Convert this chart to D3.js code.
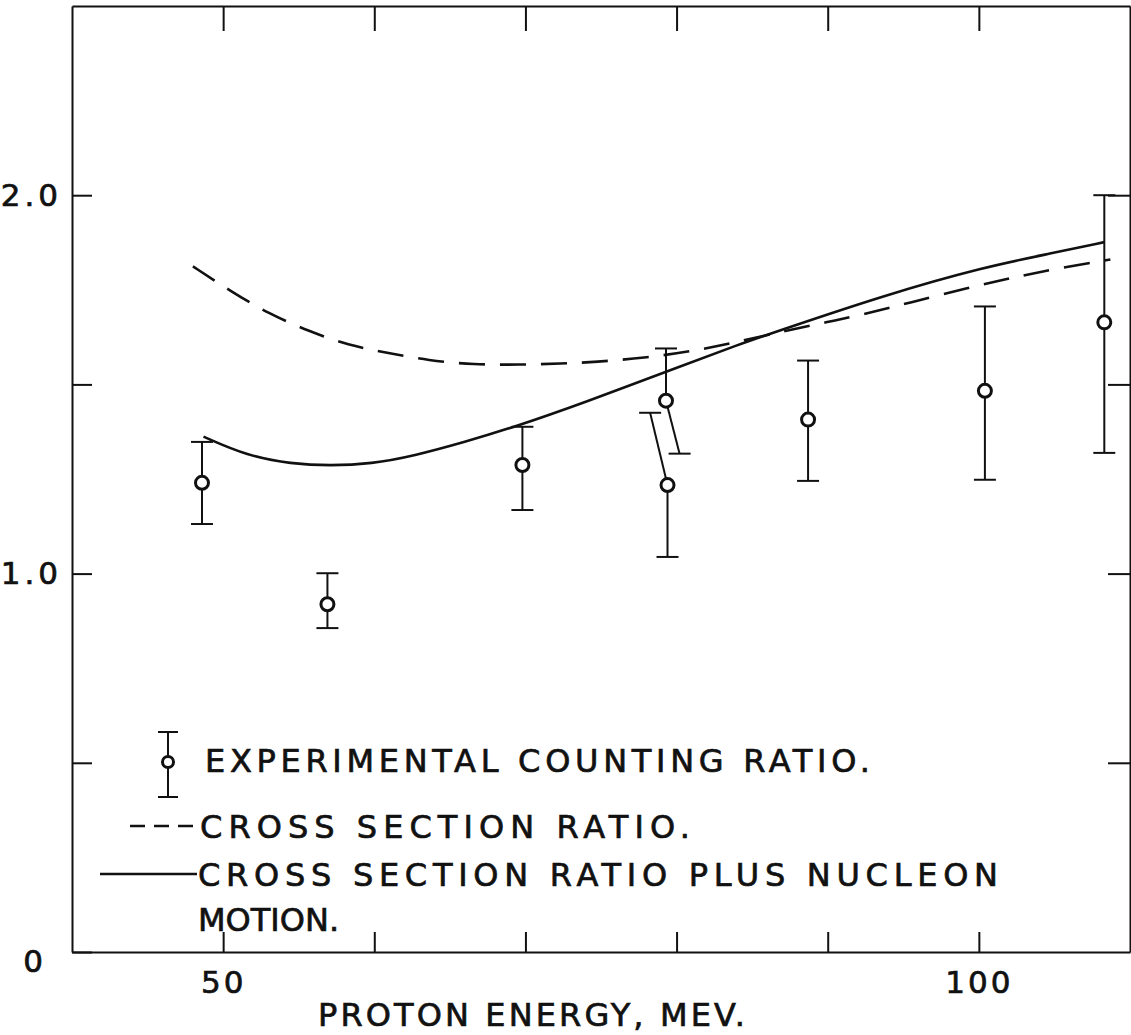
<html>
<head>
<script src="https://cdn.jsdelivr.net/npm/d3@7"></script>
<style>
    body { margin: 0; background: #fff; }
    text { font-family: "DejaVu Sans", sans-serif; fill: #111; stroke: #111; stroke-width: 0.7px; }
    .axis path, .axis line { stroke: #111; stroke-width: 2px; }
    .curve { fill: none; stroke: #111; stroke-width: 2.6px; }
    .bar { stroke: #111; stroke-width: 2px; }
</style>
</head>
<body>
<svg id="chart"></svg>
<script>
const WIDTH = 1131
const HEIGHT = 1035

// experimental counting ratio (points with error bars)
const energy = [48.6, 56.9, 69.8, 79.3, 79.4, 88.7, 100.4, 108.3]
const ratio = [1.240, 0.919, 1.287, 1.457, 1.234, 1.407, 1.483, 1.664]
const errLow = [1.131, 0.856, 1.168, 1.317, 1.044, 1.245, 1.248, 1.319]
const errHigh = [1.348, 1.001, 1.388, 1.595, 1.425, 1.563, 1.706, 2.000]
// two overlapping points at ~79 MeV have their bars drawn slanted
const lowCapEnergy = [null, null, null, 80.2, null, null, null, null]
const highCapEnergy = [null, null, null, null, 78.25, null, null, null]

// cross section ratio (dashed)
const dashE = [48.0, 50.5, 53.0, 55.7, 58.3, 60.8, 63.6, 66.6, 69.6, 72.4, 74.6, 77.9, 80.9, 83.5, 87.2, 89.9, 92.5, 95.4, 99.2, 102.3, 105.4, 108.7]
const dashR = [1.812, 1.746, 1.687, 1.640, 1.603, 1.584, 1.563, 1.552, 1.552, 1.555, 1.559, 1.570, 1.587, 1.607, 1.642, 1.664, 1.686, 1.716, 1.754, 1.783, 1.808, 1.830]

// cross section ratio plus nucleon motion (solid)
const solidE = [48.7, 51.6, 54.5, 57.1, 59.8, 62.6, 66.0, 69.3, 73.7, 80.4, 84.0, 87.0, 93.7, 100.3, 104.9, 108.3]
const solidR = [1.362, 1.311, 1.290, 1.285, 1.290, 1.311, 1.348, 1.388, 1.449, 1.550, 1.604, 1.645, 1.735, 1.810, 1.847, 1.876]

const xTicks = [50, 60, 70, 80, 90, 100]
const yTicks = [0, 0.5, 1.0, 1.5, 2.0]
const xLabels = {50: "50", 100: "100"}
const yLabels = {0: "0", 1: "1.0", 2: "2.0"}

const legendLabels = ["EXPERIMENTAL  COUNTING  RATIO.", "CROSS  SECTION  RATIO.", "CROSS  SECTION  RATIO  PLUS  NUCLEON", "MOTION."]
const xTitle = "PROTON  ENERGY,  MEV."

function draw() {
    let svg = d3.select("#chart").attr("width", WIDTH).attr("height", HEIGHT)

    let x = d3.scaleLinear().domain([40, 110]).range([72, 1130])
    let y = d3.scaleLinear().domain([0, 2.5]).range([952, 6])

    // frame + inward ticks
    let bottom = svg.append("g").attr("class", "axis")
        .attr("transform", `translate(0,${y(0)})`)
        .call(d3.axisBottom(x).tickValues(xTicks).tickSizeInner(-20).tickSizeOuter(0)
            .tickPadding(19).tickFormat(d => xLabels[d] || ""))
    bottom.selectAll("text").attr("font-size", 31).attr("letter-spacing", 3)

    svg.append("g").attr("class", "axis")
        .attr("transform", `translate(0,${y(2.5)})`)
        .call(d3.axisTop(x).tickValues(xTicks).tickSizeInner(-25).tickSizeOuter(0).tickFormat(""))

    let left = svg.append("g").attr("class", "axis")
        .attr("transform", `translate(${x(40)},0)`)
        .call(d3.axisLeft(y).tickValues(yTicks).tickSizeInner(-20).tickSizeOuter(0)
            .tickPadding(10).tickFormat(d => yLabels[d] || ""))
    left.selectAll("text").attr("font-size", 31).attr("letter-spacing", 4)
    left.selectAll(".tick").filter(d => d === 0).select("text")
        .attr("x", -25).attr("dy", "0.62em")

    svg.append("g").attr("class", "axis")
        .attr("transform", `translate(${x(110)},0)`)
        .call(d3.axisRight(y).tickValues(yTicks.slice(1)).tickSizeInner(-22).tickSizeOuter(0).tickFormat(""))

    // curves
    let line = d3.line().x(d => x(d[0])).y(d => y(d[1])).curve(d3.curveBasis)

    svg.append("path").attr("class", "curve")
        .datum(dashE.map((e, i) => [e, dashR[i]]))
        .attr("stroke-dasharray", "26,15")
        .attr("d", line)

    svg.append("path").attr("class", "curve")
        .datum(solidE.map((e, i) => [e, solidR[i]]))
        .attr("d", line)

    // error bars + points
    let pts = energy.map((e, i) => ({
        e: e, r: ratio[i], lo: errLow[i], hi: errHigh[i],
        loE: lowCapEnergy[i] || e, hiE: highCapEnergy[i] || e
    }))
    let g = svg.append("g")
    let cap = 11
    pts.forEach(p => {
        g.append("line").attr("class", "bar")
            .attr("x1", x(p.hiE)).attr("y1", y(p.hi)).attr("x2", x(p.e)).attr("y2", y(p.r))
        g.append("line").attr("class", "bar")
            .attr("x1", x(p.e)).attr("y1", y(p.r)).attr("x2", x(p.loE)).attr("y2", y(p.lo))
        g.append("line").attr("class", "bar")
            .attr("x1", x(p.hiE) - cap).attr("x2", x(p.hiE) + cap).attr("y1", y(p.hi)).attr("y2", y(p.hi))
        g.append("line").attr("class", "bar")
            .attr("x1", x(p.loE) - cap).attr("x2", x(p.loE) + cap).attr("y1", y(p.lo)).attr("y2", y(p.lo))
    })
    g.selectAll("circle").data(pts).enter().append("circle")
        .attr("cx", d => x(d.e)).attr("cy", d => y(d.r)).attr("r", 6.5)
        .attr("fill", "#fff").attr("stroke", "#111").attr("stroke-width", 3)

    // legend
    let lg = svg.append("g")
    lg.append("line").attr("class", "bar").attr("x1", 168).attr("x2", 168).attr("y1", 732).attr("y2", 797)
    lg.append("line").attr("class", "bar").attr("x1", 158).attr("x2", 178).attr("y1", 732).attr("y2", 732)
    lg.append("line").attr("class", "bar").attr("x1", 158).attr("x2", 178).attr("y1", 797).attr("y2", 797)
    lg.append("circle").attr("cx", 168).attr("cy", 762).attr("r", 5.5)
        .attr("fill", "#fff").attr("stroke", "#111").attr("stroke-width", 3)
    lg.append("line").attr("class", "curve").attr("x1", 130).attr("x2", 194).attr("y1", 826).attr("y2", 826)
        .attr("stroke-width", 2).attr("stroke-dasharray", "15,9")
    lg.append("line").attr("class", "curve").attr("x1", 100).attr("x2", 197).attr("y1", 874).attr("y2", 874)
        .attr("stroke-width", 2)

    let spots = [[205, 772, 665], [200, 838, 490], [198, 886, 800], [198, 931, null]]
    legendLabels.forEach((t, i) => {
        let tx = lg.append("text").attr("x", spots[i][0]).attr("y", spots[i][1])
            .attr("font-size", 32)
            .text(t)
        if (spots[i][2]) tx.attr("textLength", spots[i][2]).attr("lengthAdjust", "spacing")
    })

    svg.append("text").attr("x", 318).attr("y", 1026)
        .attr("font-size", 32).attr("textLength", 427).attr("lengthAdjust", "spacing")
        .text(xTitle)
}

draw()
</script>
</body>
</html>
